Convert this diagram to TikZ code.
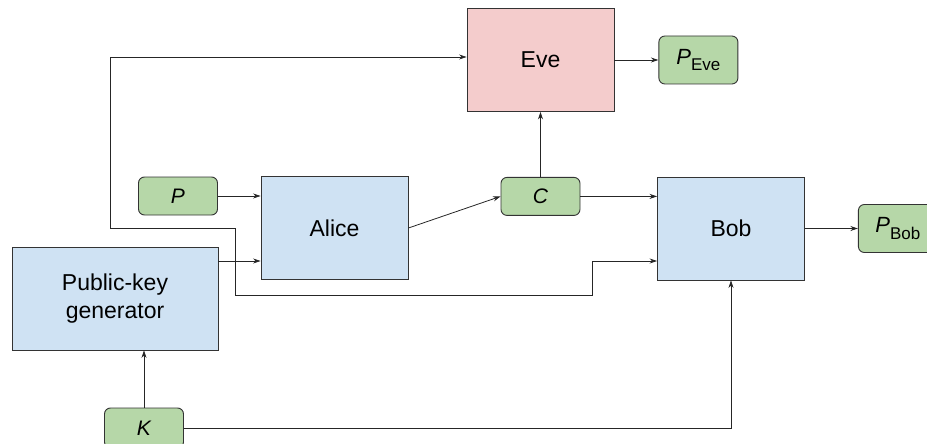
\documentclass[tikz,border=0pt]{standalone}
\usepackage{fontspec}
\setmainfont{Liberation Sans}
\usetikzlibrary{arrows.meta, positioning}

\definecolor{procblue}{HTML}{CFE2F3}
\definecolor{valgreen}{HTML}{B6D7A8}
\definecolor{evered}{HTML}{F4CCCC}
\definecolor{edgegray}{HTML}{333333}

\newcommand{\bigtxt}{\fontsize{23}{28}\selectfont}
\newcommand{\vartxt}[2]{{\fontsize{22}{24}\selectfont\itshape #1}\raisebox{-0.6ex}{\fontsize{17}{17}\selectfont\upshape #2}}

\tikzset{
  proc/.style={draw=edgegray, line width=0.9pt, fill=procblue, minimum width=147pt, minimum height=103pt, inner sep=0pt, align=center, font=\bigtxt},
  val/.style={draw=edgegray, line width=0.9pt, fill=valgreen, rounded corners=6pt, minimum width=79pt, minimum height=38pt, inner sep=0pt, font=\fontsize{21}{24}\selectfont\itshape},
  wire/.style={draw=black!85, line width=0.8pt, -{Stealth[length=7.5pt,width=5pt]}}
}

\begin{document}
\begin{tikzpicture}[x=1pt, y=1pt]
\useasboundingbox (0,0) rectangle (927,-444);

\node[proc, fill=evered] (eve) at (540.5,-60) {Eve};
\node[val, minimum height=48pt, right=44pt of eve] (peve) {\vartxt{P}{Eve}};
\node[val, below=65pt of eve] (c) {C};
\node[proc] (alice) at (334.5,-228) {Alice};
\node[val] (p) at (178,-196) {P};
\node[proc] (bob) at (731,-228.5) {Bob};
\node[val, minimum height=48pt, right=53pt of bob] (pbob) {\vartxt{P}{Bob}};
\node[proc, minimum width=206pt] (pkg) at (115,-298.5) {Public-key\\generator};
\node[val, minimum height=40pt] (k) at (144,-428) {K};

\coordinate (j) at (235,-261);
\coordinate (up) at (110,-228);
\coordinate (down) at (592,-295);

\draw[wire] (p.east) -- (p.east -| alice.west);
\draw[wire] (alice.east) -- (c.west);
\draw[wire] (c.east) -- (c.east -| bob.west);
\draw[wire] (c.north) -- (eve.south);
\draw[wire] (eve.east) -- (peve.west);
\draw[wire] (bob.east) -- (pbob.west);
\draw[wire] (pkg.east |- j) -- (alice.west |- j);
\draw[wire] (j) |- (up) |- ([yshift=3pt]eve.west);
\draw[wire] (j) |- (down) |- (bob.west |- j);
\draw[wire] (k.north) -- (k.north |- pkg.south);
\draw[wire] (k.east) -| (bob.south);

\end{tikzpicture}
\end{document}
